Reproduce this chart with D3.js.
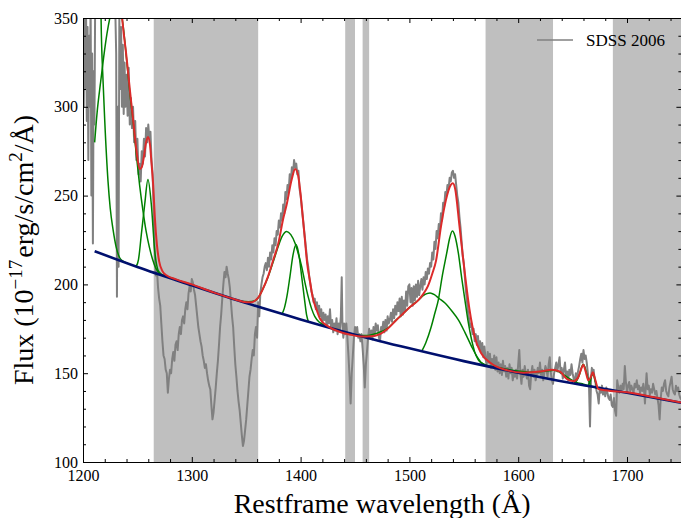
<!DOCTYPE html>
<html><head><meta charset="utf-8">
<script src="https://cdn.jsdelivr.net/npm/d3@7"></script>
<style>
body{margin:0;background:#fff}
svg{display:block}
text{font-family:"Liberation Serif","DejaVu Serif",serif;fill:#000}
</style>
</head><body>
<svg id="chart" width="681" height="518"></svg>
<script>
// ---------- data ----------
const xTicks = [1200, 1300, 1400, 1500, 1600, 1700];
const yTicks = [100, 150, 200, 250, 300, 350];
const xMinorTicks = [1220,1240,1260,1280,1320,1340,1360,1380,1420,1440,1460,1480,1520,1540,1560,1580,1620,1640,1660,1680,1720,1740];
const yMinorTicks = [110,120,130,140,160,170,180,190,210,220,230,240,260,270,280,290,310,320,330,340];
const shadedRegions = [[1265,1361],[1441,1450],[1457,1463],[1570,1632],[1687,1750]];
const legendLabel = "SDSS 2006";

// observed spectrum [wavelength, flux]
const spectrum = [
[1200,335],[1200.7,300],[1201.4,350],[1202.1,310],[1202.8,355],[1203.5,292],[1204.2,345],[1204.9,270],[1205.6,340],[1206.3,300],[1207,360],[1207.7,250],[1208.4,330],[1209.1,223],[1209.8,320],[1210.5,290],[1211.2,360],[1212,380],
[1214,395],[1216,420],[1218,410],[1220,400],[1222,390],[1224,380],[1226,375],[1228,372],[1229.5,360],[1230.5,330],[1231.2,193],[1232,300],[1232.7,210],[1233.4,350],[1234.2,310],[1235,345],[1235.8,300],[1236.6,335],[1237.4,296],[1238.2,325],[1239,300],
[1240,318],[1241,295],[1242,322],[1243,290],[1244,305],[1245,288],[1246,300],[1247,280],[1248,292],[1249,270],[1250,282],[1251,262],[1252,268],[1253,258],[1254,275],[1255,268],[1256,282],[1257,272],[1258,288],[1259,280],[1260,290],[1261,282],[1262,286],[1263,270],[1264,262],[1265,240],[1266,215],[1267,205],[1268,208],[1269,198],[1270,192],
[1271,188],[1272,178],[1273,168],[1274,160],[1275,158],[1276,152],[1277,150],[1278,139],[1279,147],[1280,152],[1281,150],[1282,158],[1283,162],[1284,157],[1285,166],[1286,168],[1287,163],[1288,172],[1289,176],[1290,172],[1291,180],[1292,182],[1293,178],[1294,186],[1295,190],[1296,186],[1297,195],[1298,199],[1299,196],[1300,203],[1301,201],[1302,197],[1303,194],[1304,188],[1305,182],[1306,176],[1307,172],[1308,168],[1309,165],[1310,160],[1311,157],[1312,153],[1313,155],[1314,150],[1315,146],[1316,143],[1317,141],[1318,132],[1319,124],[1320,128],[1321,135],[1322,142],[1323,150],[1324,157],[1325,166],[1326,176],[1327,183],[1328,192],[1329,200],[1330,207],[1331,204],[1332,210],[1333,206],[1334,203],[1335,198],[1336,190],[1337,182],[1338,176],[1339,165],[1340,155],[1341,148],[1342,140],[1343,134],[1344,129],[1345,122],[1346,115],[1347,109],[1348,112],[1349,118],[1350,124],[1351,132],[1352,140],[1353,148],[1354,152],[1355,158],[1356,163],[1357,160],[1358,172],[1359,176],[1360,170],[1361,190],[1362,182],[1363,195],[1364,200],[1365,204],[1366,206],[1367,210],[1368,212],
[1369,208],[1370,215],[1371,210],[1372,218],[1373,214],[1374,222],[1375,218],[1376,226],[1377,222],[1378,230],[1379,228],[1380,236],[1381,232],[1382,240],[1383,236],[1384,245],[1385,240],[1386,252],[1387,248],[1388,256],[1389,252],[1390,262],[1391,258],[1392,266],[1393,262],[1394,270],[1395,266],[1396,268],[1397,262],[1398,264],[1399,254],[1400,250],[1401,244],[1402,238],[1403,232],[1404,226],[1405,220],[1406,214],[1407,210],[1408,204],[1409,200],[1410,196],[1411,194],[1412,190],[1413,192],[1414,186],[1415,190],[1416,184],[1417,188],[1418,182],
[1419,186],[1420,178],[1421,184],[1422,180],[1423,183],[1424,176],[1425,182],[1426,178],[1427,186],[1428,176],[1429,180],[1430,173],[1431,178],[1432,174],[1433,181],[1434,172],[1435,178],[1436,174],[1437,182],[1437.8,204],[1438.5,176],[1439.3,170],[1440,178],[1441,172],[1442,178],[1443,170],[1444,160],[1445,148],[1446,133],[1447,150],[1448,160],[1449,170],[1450,176],[1451,172],[1452,176],[1453,170],[1454,172],[1455,168],[1456,172],[1457,164],[1458,155],[1459,142],[1460,155],[1461,162],[1462,170],[1463,175],[1464,170],[1465,174],[1466,169],[1467,176],[1468,171],[1469,178],[1470,174],[1471,177],[1472,170],[1473,168],[1474,176],[1475,174],[1476,179],[1477,173],[1478,180],[1479,174],[1480,182],[1481,178],[1482,180],[1483,184],[1484,179],[1485,186],[1486,181],[1487,188],[1488,183],[1489,190],[1490,185],[1491,192],[1492,182],[1493,193],[1494,183],[1495,191],[1496,185],[1497,196],[1498,188],[1499,199],[1500,200],[1501,190],[1502,198],[1503,188],[1504,199],[1505,191],[1506,200],[1507,193],[1508,202],[1509,194],[1510,199],[1511,203],[1512,197],[1513,204],[1514,200],[1515,207],[1516,203],[1517,209],[1518,206],[1519,212],[1520,210],[1521,218],[1522,214],[1523,224],[1524,220],[1525,230],[1526,226],[1527,234],[1528,230],
[1529,240],[1530,236],[1531,246],[1532,244],[1533,252],[1534,250],[1535,256],[1536,254],[1537,260],[1538,258],[1539,263],[1540,264],[1541,260],[1542,262],[1543,256],[1544,250],[1545,246],[1546,238],[1547,232],[1548,224],[1549,216],[1550,212],[1551,204],[1552,196],[1553,190],[1554,184],[1555,180],[1556,176],[1557,178],[1558,172],[1559,175],[1560,168],[1561,172],[1562,166],[1563,171],[1564,164],[1565,168],[1566,162],[1567,167],[1568,159],[1569,165],[1570,158],[1571,155],[1572,162],[1573,156],[1574,161],[1575,153],[1576,158],[1577,154],[1578,160],[1579,152],[1580,159],[1581,151],[1582,156],[1583,150],[1584,155],[1585,149],[1586,157],[1587,151],[1588,154],[1589,148],[1590,153],[1591,147],[1592,155],[1593,150],[1594,153],[1595,146],[1596,151],[1597,148],[1598,152],[1599,147],[1600,155],[1601,163],[1602,150],[1603,144],[1604,152],[1605,148],[1606,154],[1607,150],[1608,147],[1609,152],[1610,143],[1611,141],[1612,150],[1613,154],[1614,148],[1615,152],[1616,146],[1617,149],[1618,153],[1619,150],[1620,156],[1621,149],[1622,152],[1623,146],[1624,150],[1625,154],[1626,152],[1627,148],[1628,155],[1629,159],[1630,150],[1631,146],[1632,144],[1633,150],[1634,153],[1635,156],[1636,151],[1637,155],[1638,159],[1639,150],
[1640,153],[1641,147],[1642,152],[1643,156],[1644,148],[1645,151],[1646,146],[1647,152],[1648,149],[1649,155],[1650,150],[1651,147],[1652,145],[1653,150],[1654,147],[1655,151],[1656,154],[1657,158],[1658,161],[1659,156],[1660,163],[1661,158],[1662,160],[1663,156],[1664,150],[1665,145],[1666,120],[1667,148],[1667.7,153],[1668.5,149],[1669.3,152],[1670,148],[1671,145],[1672,140],[1673,138],[1674,133],[1675,142],[1676,139],[1677,143],[1678,138],[1679,141],[1680,137],[1681,142],[1682,139],[1683,136],[1684,135],[1685,138],[1686,132],[1687,131],[1688,136],[1689,129],[1690,126],[1691,146],[1692,142],[1693,139],[1694,143],[1695,140],[1696,144],[1697,141],[1698,154],[1699,145],[1700,139],[1701,143],[1702,145],[1703,140],[1704,143],[1705,141],[1706,139],[1707,144],[1708,142],[1709,146],[1710,141],[1711,143],[1712,139],[1713,142],[1714,140],[1715,144],[1716,138],[1716.5,133],[1717.3,143],[1718,150],[1719,141],[1720,143],[1721,138],[1722,141],[1723,139],[1724,144],[1725,141],[1726,138],[1727,140],[1728,136],[1729,132],[1730,124],[1731,136],[1732,142],[1733,140],[1734,144],[1735,146],[1736,140],[1737,138],[1738,137],[1739,142],[1740,145],[1741,148],[1742,141],[1743,139],[1744,138],[1745,143],[1746,140],[1747,142],[1748,138],[1749,136],[1750,135]
];

// power-law continuum (dark blue)
const continuum = [[1210.7,218.7],[1250,209.8],[1300,199.5],[1350,189.5],[1400,180.3],[1450,171.7],[1500,164],[1550,156.8],[1600,150.3],[1650,144.3],[1700,139],[1750,133.3]];

// total model (red)
const totalModel = [[1210,430],[1216,520],[1222,480],[1228,420],[1232,385],[1236,350],[1240,328],[1243,310],[1246,293],[1249,276],[1252,265],[1254,266],[1256,272],[1258,280],[1259.7,283],[1261.5,279],[1263,268],[1264.5,256],[1266,238],[1268,222],[1270,213],[1273,207.5],[1277,205],[1285,203],[1300,200],[1320,195.5],[1340,191.5],[1350,190],[1355,190],[1358,190.8],[1361,192.5],[1365,197],[1370,204.4],[1375,214],[1379.5,223],[1384,237],[1387.2,245],[1391.8,259],[1395,265],[1397.5,262],[1399.4,254],[1402,238],[1404,225],[1406,212],[1408.6,202],[1411,193],[1414.8,185.6],[1418,180.5],[1425,176.5],[1435,173.5],[1445,171.8],[1457,170.6],[1465,170.8],[1473,172],[1480,175],[1488,180],[1495,184],[1500,187],[1508,191],[1512,194],[1517,199],[1521,206],[1524.5,213.4],[1529,232.5],[1533.6,247.6],[1538,256],[1540,257],[1542,254],[1546,233],[1550.6,208],[1555.2,186],[1559.8,171],[1566,161.2],[1575,155.6],[1589,151.8],[1605,150.3],[1620,150.9],[1631,152],[1638.4,150.9],[1644.6,146.8],[1651,145.5],[1655,147.5],[1658,152.5],[1659.9,154.7],[1662,151],[1664.5,146],[1666.5,147.5],[1668.5,150.5],[1670.5,147],[1673.6,141.2],[1680,140.4],[1700,139.3],[1725,136.5],[1750,133.5]];

// individual line components on top of the continuum (green)
const lyaBroad = [[1210.7,280],[1213,297],[1216,313],[1219,328],[1222,341],[1225,351],[1228,358],[1231,360],[1234,356],[1237,345],[1240,327],[1243,308],[1246,292],[1249,273],[1252,256],[1255,242],[1258,230],[1261,221],[1264,214],[1267,209],[1271,206],[1276,204.8],[1285,202.7]];
const lyaNarrow = [[1214,460],[1215.7,500],[1216.6,350],[1218.4,315],[1220,292],[1223,258],[1225,243],[1227.6,231],[1230.5,221],[1233.7,215],[1237,213],[1241,212]];
const nvLine = [[1249,210.3],[1251,214],[1253.6,228],[1256.7,245],[1259.7,259],[1262.8,245],[1265.9,219],[1269,208],[1272,205.8]];
const siivBroad = [[1345,190.5],[1352,190.3],[1358,190.8],[1361,192.5],[1365,197],[1370,204],[1375,213],[1379.5,221.5],[1383,227],[1387.2,229.8],[1391,228],[1395,223],[1398,217],[1401,210],[1404,201],[1407,193],[1410,186.5],[1413,182],[1417,178.8],[1422,177]];
const siivNarrow = [[1382.6,183],[1385,186.5],[1387.5,193.5],[1390.2,204.4],[1393,216.5],[1395.8,222.5],[1398.5,216.5],[1401,204.4],[1403.5,192],[1405.6,182.5],[1407,179.2]];
const civBroad = [[1450,171.7],[1460,171.2],[1470,172.5],[1480,175.3],[1488,180],[1495,184],[1500,187],[1505,189.5],[1509,191.5],[1513,193.8],[1516,194.8],[1519,195.2],[1523,194.2],[1527,192.2],[1532.7,189.5],[1539,185],[1545,180],[1551,173],[1557.2,165],[1562,159.5],[1566.4,155.8],[1572,154.2]];
const civNarrow = [[1511.3,162.3],[1515,167],[1520,176],[1523.5,184],[1526.6,191.3],[1530,204],[1534.3,217.6],[1537,226],[1539.5,230],[1542,227],[1545,217.6],[1548,204],[1551,191.3],[1554,179],[1557.2,168.7],[1560,162],[1563.3,157.5],[1567,155.5],[1570,154.4]];
const heiiBroad = [[1570,154.4],[1580,153.4],[1590,152.2],[1600,151.2],[1610,150.6],[1620,150.8],[1628,151.4],[1633,151.6],[1638,150.6],[1643,148.6],[1648,146.6],[1653,145],[1660,143.8],[1667,142.6],[1673,141.5]];
const narrowLine1 = [[1651.5,144.6],[1654,146],[1656.5,149.5],[1658.3,153.5],[1659.8,155],[1661.3,153.5],[1663,149.5],[1665,145.5],[1666.5,143.5]];
const narrowLine2 = [[1664.5,143.5],[1666,145],[1667.5,148.5],[1668.6,150.2],[1669.7,148.5],[1671,145],[1672.5,142]];
const components = [lyaBroad, lyaNarrow, nvLine, siivBroad, siivNarrow, civBroad, civNarrow, heiiBroad, narrowLine1, narrowLine2];

// ---------- drawing ----------
const L = 83, R = 681.4, T = 18, B = 462;
const svg = d3.select("#chart");
const x = d3.scaleLinear().domain([1200, 1750]).range([L, R]);
const y = d3.scaleLinear().domain([100, 350]).range([B, T]);

svg.append("defs").append("clipPath").attr("id", "clip")
  .append("rect").attr("x", L).attr("y", T).attr("width", R - L).attr("height", B - T);
const plot = svg.append("g").attr("clip-path", "url(#clip)");

plot.selectAll("rect.shade").data(shadedRegions).join("rect")
  .attr("class", "shade")
  .attr("x", d => x(d[0])).attr("width", d => x(d[1]) - x(d[0]))
  .attr("y", T).attr("height", B - T)
  .attr("fill", "#bfbfbf");

const lin = d3.line().x(d => x(d[0])).y(d => y(d[1]));
const smooth = d3.line().x(d => x(d[0])).y(d => y(d[1])).curve(d3.curveMonotoneX);

plot.append("path").datum(spectrum).attr("d", lin)
  .attr("fill", "none").attr("stroke", "#808080").attr("stroke-width", 2).attr("stroke-linejoin", "round");

plot.selectAll("path.comp").data(components).join("path")
  .attr("class", "comp").attr("d", smooth)
  .attr("fill", "none").attr("stroke", "#008000").attr("stroke-width", 1.5);

plot.append("path").datum(continuum).attr("d", smooth)
  .attr("fill", "none").attr("stroke", "#00106e").attr("stroke-width", 2.6);

plot.append("path").datum(totalModel).attr("d", smooth)
  .attr("fill", "none").attr("stroke", "#dc2a2a").attr("stroke-width", 2);

// axes
function styleAxis(g) {
  g.selectAll("path.domain").attr("stroke", "#000").attr("stroke-width", 1);
  g.selectAll(".tick line").attr("stroke", "#000").attr("stroke-width", 1);
  g.selectAll(".tick text").attr("font-family", '"Liberation Serif","DejaVu Serif",serif').attr("font-size", 16).attr("fill", "#000");
  g.attr("font-family", null);
}
svg.append("g").attr("transform", `translate(0,${B})`)
  .call(d3.axisBottom(x).tickValues(xTicks).tickSize(-5).tickSizeOuter(0).tickPadding(8).tickFormat(d3.format("d"))).call(styleAxis);
svg.append("g").attr("transform", `translate(0,${B})`)
  .call(d3.axisBottom(x).tickValues(xMinorTicks).tickSize(-3).tickFormat(() => "")).call(styleAxis)
  .select("path.domain").remove();
svg.append("g").attr("transform", `translate(0,${T})`)
  .call(d3.axisTop(x).tickValues(xTicks).tickSize(-5).tickSizeOuter(0).tickFormat(() => "")).call(styleAxis);
svg.append("g").attr("transform", `translate(0,${T})`)
  .call(d3.axisTop(x).tickValues(xMinorTicks).tickSize(-3).tickFormat(() => "")).call(styleAxis)
  .select("path.domain").remove();
svg.append("g").attr("transform", `translate(${L},0)`)
  .call(d3.axisLeft(y).tickValues(yTicks).tickSize(-5).tickSizeOuter(0).tickPadding(5).tickFormat(d3.format("d"))).call(styleAxis);
svg.append("g").attr("transform", `translate(${L},0)`)
  .call(d3.axisLeft(y).tickValues(yMinorTicks).tickSize(-3).tickFormat(() => "")).call(styleAxis)
  .select("path.domain").remove();
svg.append("g").attr("transform", `translate(${R},0)`)
  .call(d3.axisRight(y).tickValues(yTicks).tickSize(-5).tickSizeOuter(0).tickFormat(() => "")).call(styleAxis);
svg.append("g").attr("transform", `translate(${R},0)`)
  .call(d3.axisRight(y).tickValues(yMinorTicks).tickSize(-3).tickFormat(() => "")).call(styleAxis)
  .select("path.domain").remove();

// axis labels
svg.append("text").attr("x", (L + R) / 2).attr("y", 513).attr("text-anchor", "middle")
  .attr("font-size", 28).text("Restframe wavelength (Å)");

const yl = svg.append("text").attr("transform", "translate(33,250) rotate(-90)")
  .attr("text-anchor", "middle").attr("font-size", 28);
yl.append("tspan").text("Flux (10");
yl.append("tspan").attr("dy", -11).attr("font-size", 19).text("−17");
yl.append("tspan").attr("dy", 11).attr("dx", 2).text("erg/s/cm");
yl.append("tspan").attr("dy", -11).attr("font-size", 19).text("2");
yl.append("tspan").attr("dy", 11).text("/Å)");

// legend
svg.append("line").attr("x1", 537).attr("x2", 573).attr("y1", 40).attr("y2", 40)
  .attr("stroke", "#808080").attr("stroke-width", 1.6);
svg.append("text").attr("x", 586).attr("y", 46).attr("font-size", 17).text(legendLabel);
</script>
</body></html>
